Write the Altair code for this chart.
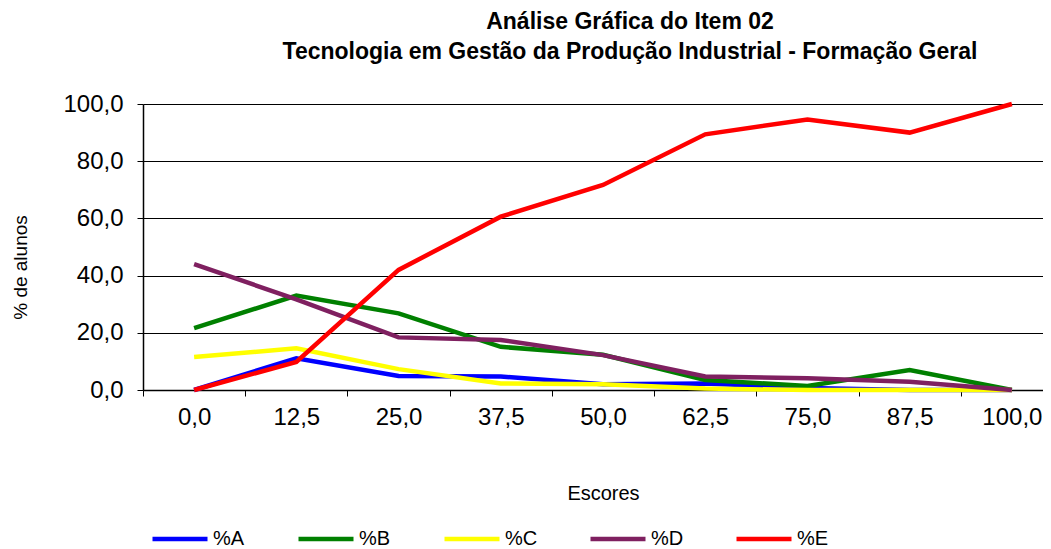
import altair as alt
import pandas as pd

escores = ["0,0", "12,5", "25,0", "37,5", "50,0", "62,5", "75,0", "87,5", "100,0"]
serie_a = [0.0, 11.1, 4.9, 4.7, 2.0, 2.3, 0.7, 0.0, 0.0]
serie_b = [21.6, 33.0, 26.8, 15.1, 12.3, 3.5, 1.4, 7.0, 0.0]
serie_c = [11.5, 14.6, 7.3, 2.3, 2.0, 0.5, 0.0, 0.0, 0.0]
serie_d = [44.0, 31.7, 18.4, 17.5, 12.2, 4.7, 4.1, 2.9, 0.0]
serie_e = [0.0, 9.8, 42.0, 60.6, 71.7, 89.4, 94.6, 90.0, 100.0]

series = ["%A", "%B", "%C", "%D", "%E"]
cores = ["#0000FF", "#008000", "#FFFF00", "#7F2060", "#FF0000"]

rows = []
for nome, vals in zip(series, [serie_a, serie_b, serie_c, serie_d, serie_e]):
    for e, v in zip(escores, vals):
        rows.append({"Escores": e, "valor": v, "serie": nome})
df = pd.DataFrame(rows)

FONT = "Liberation Sans"

chart = alt.Chart(df).mark_line(strokeWidth=4.5, strokeJoin="miter").encode(
    x=alt.X(
        "Escores:N",
        sort=escores,
        bandPosition=0.5,
        scale=alt.Scale(type="band", domain=escores, range=[0, 920], paddingInner=0, paddingOuter=0),
        axis=alt.Axis(
            title="Escores",
            titleX=460, titleY=103, titleBaseline="middle", titleAlign="center",
            titleFont=FONT, titleFontSize=20, titleFontWeight="normal", titleColor="#000000",
            labelFont=FONT, labelFontSize=24, labelColor="#000000", labelPadding=9,
            labelAngle=0,
            tickBand="extent", tickColor="#000000", tickSize=6,
            domainColor="#000000", domainWidth=1.5,
            grid=False,
        ),
    ),
    y=alt.Y(
        "valor:Q",
        scale=alt.Scale(domain=[0, 100], nice=False),
        axis=alt.Axis(
            title="% de alunos",
            titleX=-123, titleY=163, titleBaseline="middle", titleAlign="center", titleAngle=270,
            titleFont=FONT, titleFontSize=19, titleFontWeight="normal", titleColor="#000000",
            values=[0, 20, 40, 60, 80, 100],
            labelExpr="replace(format(datum.value, '.1f'), '.', ',')",
            labelFont=FONT, labelFontSize=24, labelColor="#000000", labelPadding=14,
            tickColor="#000000", tickSize=6,
            domainColor="#000000", domainWidth=1.5,
            grid=True, gridColor="#000000", gridWidth=1,
        ),
    ),
    color=alt.Color(
        "serie:N",
        scale=alt.Scale(domain=series, range=cores),
        legend=alt.Legend(
            title=None, orient="none", legendX=7, legendY=405,
            direction="horizontal", symbolType="stroke", symbolStrokeWidth=4.5,
            symbolSize=3025, labelFont=FONT, labelFontSize=20, labelColor="#000000",
            labelOffset=3, columnPadding=43, gridAlign="all",
        ),
    ),
).properties(
    width=900,
    height=286,
    title=alt.TitleParams(
        text=["Análise Gráfica do Item 02",
              "Tecnologia em Gestão da Produção Industrial - Formação Geral"],
        font=FONT, fontSize=23, fontWeight="bold", color="#000000",
        anchor="middle", dx=37, offset=28, lineHeight=30,
    ),
    autosize=alt.AutoSizeParams(type="none"),
    padding={"left": 135, "top": 96, "right": 0, "bottom": 159},
).configure_view(stroke=None)

chart.save("out.html", embed_options={"renderer": "svg", "actions": False})
